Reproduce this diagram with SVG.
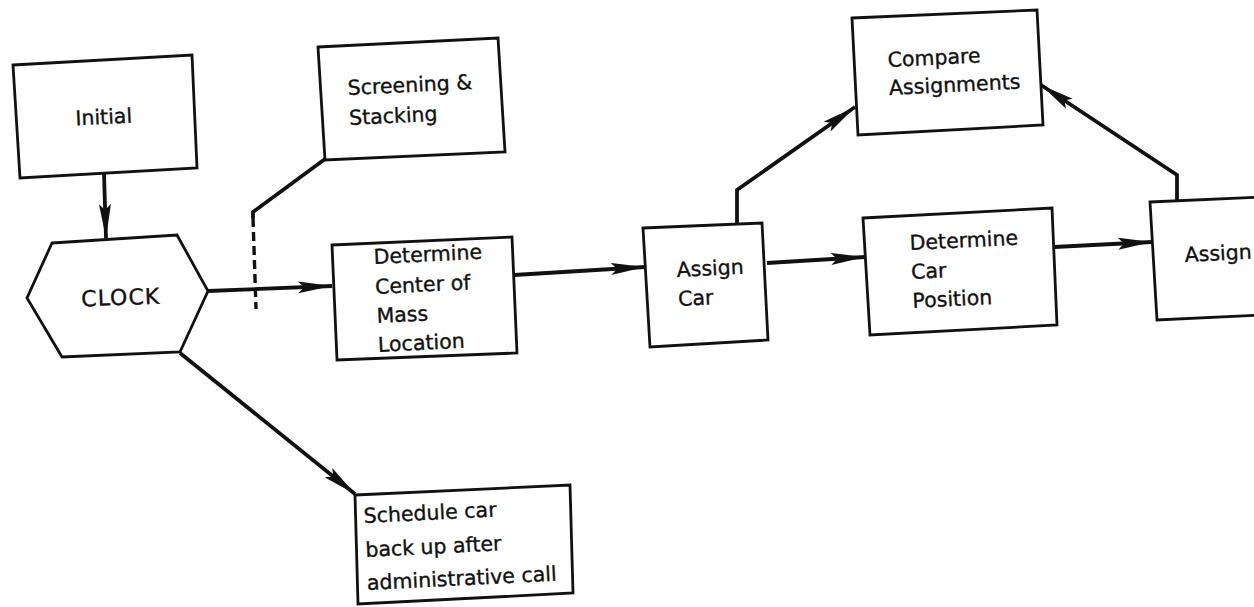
<svg xmlns="http://www.w3.org/2000/svg" width="1254" height="607" viewBox="0 0 1254 607">
<style>
.bg{fill:#ffffff}
.box{fill:#ffffff;stroke:#111;stroke-width:2.8;stroke-linejoin:miter}
.t{font-family:"DejaVu Sans","Liberation Sans",sans-serif;font-size:20.5px;fill:#111;stroke:#111;stroke-width:0.35}
.c{font-size:22px;letter-spacing:1px}
.con{fill:none;stroke:#111;stroke-width:3.8;stroke-linejoin:miter}
.dash{fill:none;stroke:#111;stroke-width:3.4;stroke-dasharray:9 5}
</style>
<defs>
<marker id="ah" markerUnits="userSpaceOnUse" markerWidth="36" markerHeight="13" refX="34" refY="6.5" orient="auto" viewBox="0 0 36 13">
<path d="M0,0.5 L34,6.5 L0,12.5 L6,6.5 z" fill="#111"/>
</marker>
</defs>
<rect class="bg" x="0" y="0" width="1254" height="607"/>

<g id="connectors">
<line class="con" x1="104" y1="174" x2="106" y2="238" marker-end="url(#ah)"/>
<line class="con" x1="208" y1="291" x2="332" y2="286" marker-end="url(#ah)"/>
<polyline class="con" points="325,159 253,212 253,218"/>
<line class="dash" x1="253" y1="218" x2="256" y2="309"/>
<line class="con" x1="514" y1="275" x2="645" y2="267" marker-end="url(#ah)"/>
<polyline class="con" points="737,224 737,190 855,107" marker-end="url(#ah)"/>
<line class="con" x1="767" y1="263" x2="865" y2="257" marker-end="url(#ah)"/>
<line class="con" x1="1054" y1="247" x2="1152" y2="242" marker-end="url(#ah)"/>
<polyline class="con" points="1177,202 1177,175 1041,85" marker-end="url(#ah)"/>
<line class="con" x1="180" y1="353" x2="355" y2="494" marker-end="url(#ah)"/>
</g>

<g id="initial">
<polygon class="box" points="13,65 192,55 197,168 20,178"/>
<text class="t" x="104" y="124" text-anchor="middle" transform="rotate(-2.8 104 124)">Initial</text>
</g>

<g id="clock">
<polygon class="box" points="52,243 177,235 208,291 180,352 62,357 27,298"/>
<text class="t c" x="121" y="305" text-anchor="middle" transform="rotate(-2 121 305)">CLOCK</text>
</g>

<g id="screening">
<polygon class="box" points="318,47 498,38 505,152 325,160"/>
<text class="t" transform="rotate(-2.8 348 95)"><tspan x="348" y="95">Screening &amp;</tspan><tspan x="348" y="125">Stacking</tspan></text>
</g>

<g id="center-of-mass">
<polygon class="box" points="332,245 512,237 517,353 337,360"/>
<text class="t" transform="rotate(-2.8 374 264)"><tspan x="374" y="264">Determine</tspan><tspan x="374" y="294">Center  of</tspan><tspan x="374" y="323">Mass</tspan><tspan x="374" y="352">Location</tspan></text>
</g>

<g id="assign-car">
<polygon class="box" points="643,228 762,223 768,340 650,347"/>
<text class="t" transform="rotate(-2.8 677 277)"><tspan x="677" y="277">Assign</tspan><tspan x="677" y="306">Car</tspan></text>
</g>

<g id="compare">
<polygon class="box" points="852,18 1037,10 1043,125 858,135"/>
<text class="t" transform="rotate(-2.8 888 67)"><tspan x="888" y="67">Compare</tspan><tspan x="888" y="95">Assignments</tspan></text>
</g>

<g id="car-position">
<polygon class="box" points="863,218 1052,208 1057,325 870,335"/>
<text class="t" transform="rotate(-2.8 910 250)"><tspan x="910" y="250">Determine</tspan><tspan x="910" y="279">Car</tspan><tspan x="910" y="308">Position</tspan></text>
</g>

<g id="assign">
<polygon class="box" points="1150,202 1262,197 1264,315 1157,320"/>
<text class="t" x="1185" y="262" transform="rotate(-2.8 1185 262)">Assign</text>
</g>

<g id="schedule">
<polygon class="box" points="355,495 570,485 573,593 358,604"/>
<text class="t" transform="rotate(-2.8 364 523)"><tspan x="364" y="523">Schedule car</tspan><tspan x="364" y="557">back up after</tspan><tspan x="364" y="590">administrative call</tspan></text>
</g>
</svg>
